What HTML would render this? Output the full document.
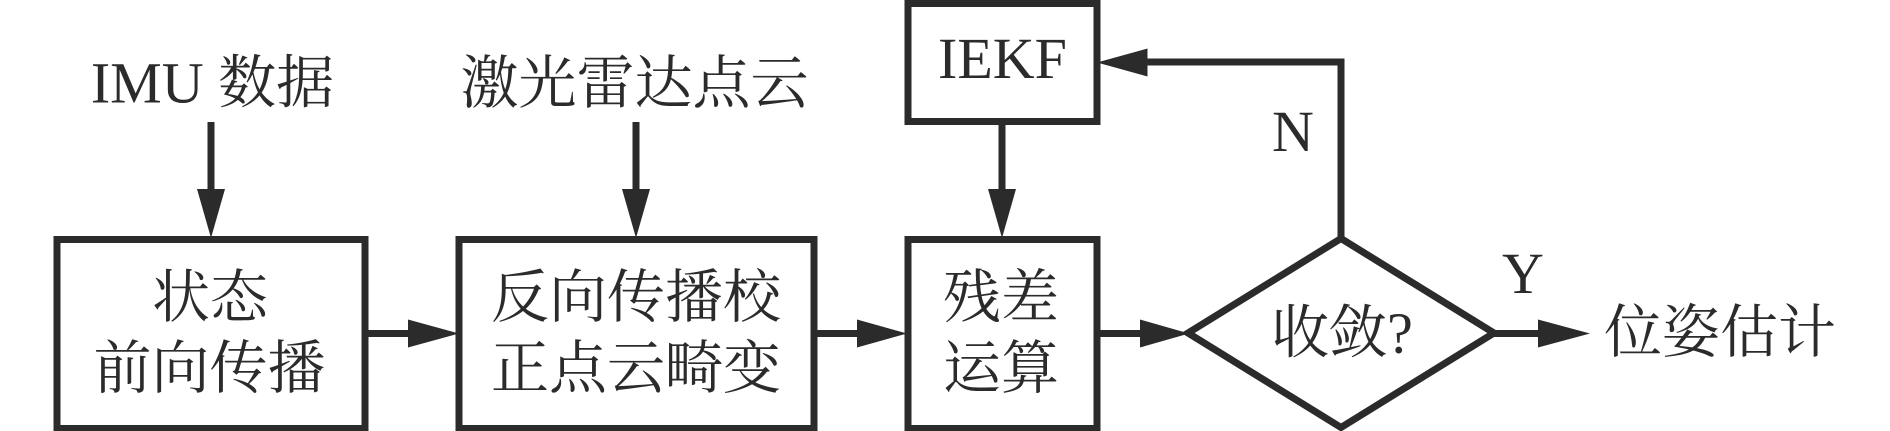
<!DOCTYPE html>
<html lang="zh">
<head>
<meta charset="utf-8">
<style>
html,body{margin:0;padding:0;background:#fff;width:1890px;height:431px;overflow:hidden}
svg{display:block}
text{font-family:"Liberation Serif","Noto Serif CJK SC",serif;font-size:58px;fill:#2b2b2b;text-anchor:middle}
</style>
</head>
<body>
<svg width="1890" height="431" viewBox="0 0 1890 431" xmlns="http://www.w3.org/2000/svg">
<rect width="1890" height="431" fill="#fff"/>
<g fill="none" stroke="#2b2b2b" stroke-width="7">
<rect x="57" y="239.5" width="308" height="189"/>
<rect x="459" y="239.5" width="355" height="189"/>
<rect x="908" y="239.5" width="189" height="189"/>
<rect x="908" y="3.5" width="189" height="118"/>
<polygon points="1341,238.5 1494,333 1341,427.5 1188,333"/>
<path d="M211 122V192M636 122V192M1002 122V192M365 333.5H412M814 333.5H860M1097 333.5H1144M1491 333.5H1542M1341 238V62H1144"/>
</g>
<g fill="#2b2b2b">
<polygon points="197,189 225,189 211,238"/>
<polygon points="622,189 650,189 636,238"/>
<polygon points="988,189 1016,189 1002,238"/>
<polygon points="408,319.5 408,347.5 459,333.5"/>
<polygon points="857,319.5 857,347.5 907,333.5"/>
<polygon points="1140,319.5 1140,347.5 1189,333.5"/>
<polygon points="1538,319.5 1538,347.5 1590,333.5"/>
<polygon points="1147.5,48.5 1147.5,76.5 1097,62.5"/>
</g>
<text x="212.5" y="102.5">IMU 数据</text>
<text x="634.5" y="103">激光雷达点云</text>
<text x="210" y="317">状态</text>
<text x="209.5" y="388">前向传播</text>
<text x="636" y="317">反向传播校</text>
<text x="636" y="388">正点云畸变</text>
<text x="1001" y="317">残差</text>
<text x="1001" y="388">运算</text>
<text x="1002.5" y="78">IEKF</text>
<text x="1293" y="151">N</text>
<text x="1523" y="293">Y</text>
<text x="1342" y="352.5">收敛?</text>
<text x="1720" y="352">位姿估计</text>
</svg>
</body>
</html>
